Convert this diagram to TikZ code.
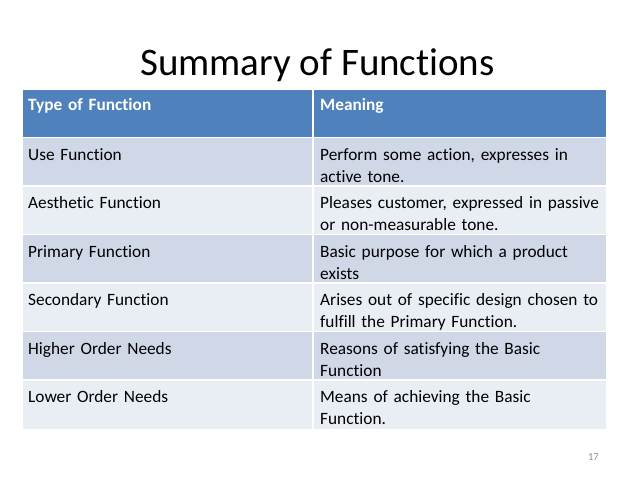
\documentclass[tikz,border=0pt]{standalone}
\usepackage{fontspec}
\setmainfont{Carlito}[Ligatures=NoCommon]
\definecolor{hdr}{HTML}{4F81BD}
\definecolor{bandA}{HTML}{D0D8E8}
\definecolor{bandB}{HTML}{E9EDF4}
\definecolor{pgnum}{HTML}{8C8C8C}
\begin{document}
\begin{tikzpicture}[x=1pt,y=-1pt,
  cellline/.style={draw=white, line width=1.5pt},
  txt/.style={anchor=north west, inner sep=0pt, text width=320pt, align=left,
    font=\fontsize{17.3}{22}\selectfont},
  hdrtxt/.style={txt, text=white, font=\fontsize{17.3}{22}\selectfont\bfseries}]
\useasboundingbox (0,0) rectangle (638,479);
\fill[white] (0,0) rectangle (638,479);
% title
\node[font=\fontsize{39}{47}\selectfont, anchor=base, inner sep=0pt] (title) at (317.5,75) {Summary of Functions};
% header
\fill[hdr] (23,90) rectangle (606,137.5);
% bands
\foreach \t/\b/\c in {137.5/186/bandA,186/234.5/bandB,234.5/283/bandA,283/331.5/bandB,331.5/380/bandA,380/428.5/bandB}{
  \fill[\c] (23,\t) rectangle (606,\b);
}
% white grid lines
\foreach \y in {137.5,186,234.5,283,331.5,380}{
  \draw[cellline] (23,\y) -- (606,\y);
}
\draw[cellline] (313,90) -- (313,428.5);
% header text
\node[hdrtxt] (h1) at (28,94.6) {\strut Type of Function};
\node[hdrtxt] (h2) at (320,94.6) {\strut Meaning};
% rows
\node[txt] (r1a) at (28,144.6) {\strut Use Function};
\node[txt] (r1b) at (320,144.6) {\strut Perform some action, expresses in\\active tone.};
\node[txt] (r2a) at (28,193.1) {\strut Aesthetic Function};
\node[txt] (r2b) at (320,193.1) {\strut Pleases customer, expressed in passive\\or non-measurable tone.};
\node[txt] (r3a) at (28,241.6) {\strut Primary Function};
\node[txt] (r3b) at (320,241.6) {\strut Basic purpose for which a product\\exists};
\node[txt] (r4a) at (28,290.1) {\strut Secondary Function};
\node[txt] (r4b) at (320,290.1) {\strut Arises out of specific design chosen to\\fulfill the Primary Function.};
\node[txt] (r5a) at (28,338.6) {\strut Higher Order Needs};
\node[txt] (r5b) at (320,338.6) {\strut Reasons of satisfying the Basic\\Function};
\node[txt] (r6a) at (28,387.1) {\strut Lower Order Needs};
\node[txt] (r6b) at (320,387.1) {\strut Means of achieving the Basic\\Function.};
% page number
\node[font=\fontsize{10.5}{12}\selectfont, text=pgnum, anchor=base east, inner sep=0pt] (pg) at (599,460) {17};
\end{tikzpicture}
\end{document}
